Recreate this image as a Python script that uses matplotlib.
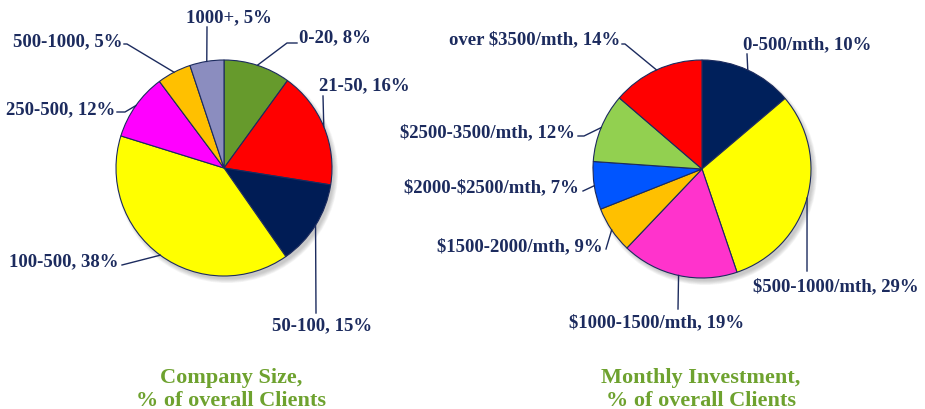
import numpy as np
import matplotlib
matplotlib.use("Agg")
import matplotlib.pyplot as plt
from matplotlib.patches import Circle

# company size pie
size_labels = ["0-20", "21-50", "50-100", "100-500", "250-500", "500-1000", "1000+"]
size_pct = [8, 16, 15, 38, 12, 5, 5]              # printed percentages
size_drawn = [10, 17.5, 12.8, 39.5, 10, 5.1, 5.1]  # slice shares as drawn
size_colors = ["#669a2c", "#ff0000", "#001c55", "#ffff00", "#ff00ff", "#ffc000", "#8b8dbf"]

# monthly investment pie
inv_labels = ["0-500/mth", "$500-1000/mth", "$1000-1500/mth", "$1500-2000/mth",
              "$2000-$2500/mth", "$2500-3500/mth", "over $3500/mth"]
inv_pct = [10, 29, 19, 9, 7, 12, 14]
inv_drawn = [13.8, 31, 17.3, 6.9, 7.1, 10.2, 13.7]
inv_colors = ["#00205b", "#ffff00", "#ff33cc", "#ffc000", "#0055ff", "#92d050", "#ff0000"]

TXT = "#1c2b5e"
TITLE = "#6ea22f"
H = 410

def py(y):
    return H - y

# label layout in pixel coords: (text x, text y, ha, line points from pie edge outward)
size_layout = [
    (299, 38, "left", [(287, 44), (297, 44)]),
    (319, 86, "left", [(323, 97)]),
    (322, 326, "center", [(316, 314)]),
    (118, 262, "right", [(122, 266)]),
    (115, 110, "right", [(125, 113), (117, 113)]),
    (122, 42, "right", [(127, 45), (124, 45)]),
    (229, 18, "center", [(207, 28)]),
]
inv_layout = [
    (743, 45, "left", [(747, 55)]),
    (753, 287, "left", [(807, 272)]),
    (657, 323, "center", [(678, 310)]),
    (603, 247, "right", [(606, 250)]),
    (579, 188, "right", [(583, 192)]),
    (575, 133, "right", [(584, 137), (578, 137)]),
    (620, 40, "right", [(625, 45), (622, 45)]),
]

fig = plt.figure(figsize=(9.25, 4.1), dpi=100)
ax = fig.add_axes([0, 0, 1, 1])
ax.set_xlim(0, 925)
ax.set_ylim(0, H)
ax.set_aspect("equal")
ax.axis("off")

font = dict(family="Liberation Serif", weight="bold")


def draw_pie(cx, cy, r, drawn, pct, labels, colors, layout):
    c = (cx, py(cy))
    # soft shadow
    for k in range(6):
        ax.add_patch(Circle((cx + 3, py(cy + 4)), r + 3 - k * 0.8,
                            color="#555555", alpha=0.06, lw=0, zorder=1))
    wedges, _ = ax.pie(drawn, colors=colors, startangle=90, counterclock=False,
                       center=c, radius=r, frame=True,
                       wedgeprops=dict(edgecolor="#1c2b5e", linewidth=0.8))
    for w in wedges:
        w.set_zorder(2)
    for w, lab, p, (tx, ty, ha, pts) in zip(wedges, labels, pct, layout):
        mid = np.deg2rad((w.theta1 + w.theta2) / 2)
        ex, ey = c[0] + r * np.cos(mid), c[1] + r * np.sin(mid)
        xs = [ex] + [q[0] for q in pts]
        ys = [ey] + [py(q[1]) for q in pts]
        ax.plot(xs, ys, color=TXT, lw=1.0, zorder=3)
        ax.text(tx, py(ty), f"{lab}, {p}%", ha=ha, va="center", parse_math=False,
                color=TXT, fontsize=13.5, **font)


draw_pie(224, 169, 108, size_drawn, size_pct, size_labels, size_colors, size_layout)
draw_pie(702, 170, 109, inv_drawn, inv_pct, inv_labels, inv_colors, inv_layout)

ax.set_xlim(0, 925)
ax.set_ylim(0, H)
ax.axis("off")

ax.text(231, py(390), "Company Size,\n% of overall Clients", ha="center", va="center",
        color=TITLE, fontsize=16, linespacing=1.2, **font)
ax.text(701, py(390), "Monthly Investment,\n% of overall Clients", ha="center", va="center",
        color=TITLE, fontsize=16, linespacing=1.2, **font)

fig.savefig("out.png", dpi=100)
